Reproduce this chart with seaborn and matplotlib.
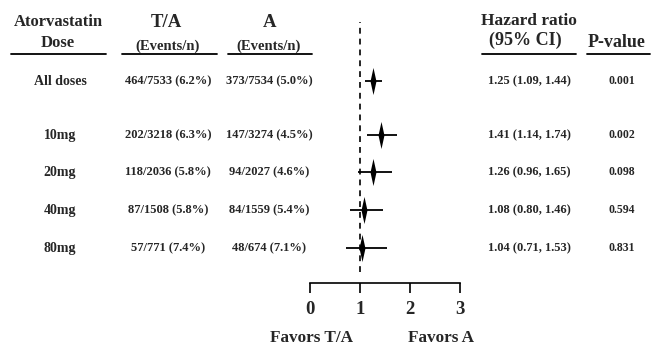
import numpy as np
import matplotlib
matplotlib.use("Agg")
from matplotlib import pyplot as plt
import seaborn as sns

# data
doses = ['All doses', '10mg', '20mg', '40mg', '80mg']
ta_events = [464, 202, 118, 87, 57]
ta_n = [7533, 3218, 2036, 1508, 771]
a_events = [373, 147, 94, 84, 48]
a_n = [7534, 3274, 2027, 1559, 674]
hr = [1.25, 1.41, 1.26, 1.08, 1.04]
ci_lo = [1.09, 1.14, 0.96, 0.80, 0.71]
ci_hi = [1.44, 1.74, 1.65, 1.46, 1.53]
pvals = ['0.001', '0.002', '0.098', '0.594', '0.831']
xticks = [0, 1, 2, 3]

# layout (pixels from top)
row_y = [81, 135, 172, 210, 248]
W, H = 652, 347


def pct_text(ev, n):
    return '%d/%d (%.1f%%)' % (ev, n, 100.0 * ev / n)


sns.set_style('white')
plt.rcParams['font.family'] = ['Liberation Serif', 'DejaVu Serif']
plt.rcParams['font.weight'] = 'bold'

fig = plt.figure(figsize=(W / 100, H / 100), dpi=100)

# background axes in pixel units for the table text
bg = fig.add_axes([0, 0, 1, 1])
bg.set_xlim(0, W)
bg.set_ylim(H, 0)
bg.axis('off')

# forest axes: x in hazard ratio units
ax = fig.add_axes([310 / W, 1 - 283 / H, 150 / W, 283 / H])
ax.set_facecolor('none')
ax.set_xlim(0, 3)
ax.set_ylim(283, 0)

# headers
hdr = dict(ha='center', va='center', fontweight='bold')
bg.text(58, 22, 'Atorvastatin', size=12, **hdr)
bg.text(58, 43, 'Dose', size=12, **hdr)
bg.text(166, 22, 'T/A', size=13.5, **hdr)
bg.text(168, 46, '(Events/n)', size=10.5, **hdr)
bg.text(270, 22, 'A', size=13.5, **hdr)
bg.text(269, 46, '(Events/n)', size=10.5, **hdr)
bg.text(529, 21, 'Hazard ratio', size=12.5, **hdr)
bg.text(525, 40, '(95% CI)', size=13, **hdr)
bg.text(617, 42, 'P-value', size=13, **hdr)

for x0, x1 in [(11, 106), (122, 217), (228, 312), (482, 576), (587, 650)]:
    bg.plot([x0, x1], [54, 54], color='black', lw=1.3)

# table rows
for i, d in enumerate(doses):
    y = row_y[i]
    bg.text(60, y, d, size=10, **hdr)
    bg.text(168, y, pct_text(ta_events[i], ta_n[i]), size=9, **hdr)
    bg.text(269, y, pct_text(a_events[i], a_n[i]), size=9, **hdr)
    bg.text(529, y, '%.2f (%.2f, %.2f)' % (hr[i], ci_lo[i], ci_hi[i]), size=9, **hdr)
    bg.text(622, y, pvals[i], size=8.5, **hdr)

# forest marks
ax.axvline(1, ymin=1 - 272 / 283, ymax=1 - 22 / 283, color='black',
           lw=1.2, ls=(0, (3.5, 3)))
ax.hlines(row_y, ci_lo, ci_hi, color='black', lw=1.3)
diamond = [(0, 1), (0.22, 0), (0, -1), (-0.22, 0), (0, 1)]
sns.scatterplot(x=hr, y=row_y, marker=diamond, s=380, color='black',
                linewidth=0, ax=ax, legend=False, zorder=3)

ax.set_xticks(xticks)
ax.set_yticks([])
ax.set_xlabel('')
ax.set_ylabel('')
ax.tick_params(axis='x', bottom=True, direction='out', length=7.2, width=1.2,
               labelsize=13.5, pad=5.5, color='black')
for lab in ax.get_xticklabels():
    lab.set_fontweight('bold')
sns.despine(ax=ax, left=True)
ax.spines['bottom'].set_linewidth(1.2)
ax.spines['bottom'].set_color('black')

bg.text(312, 338, 'Favors T/A', size=12.3, **hdr)
bg.text(441, 338, 'Favors A', size=12.3, **hdr)

plt.savefig('out.png', dpi=100)
